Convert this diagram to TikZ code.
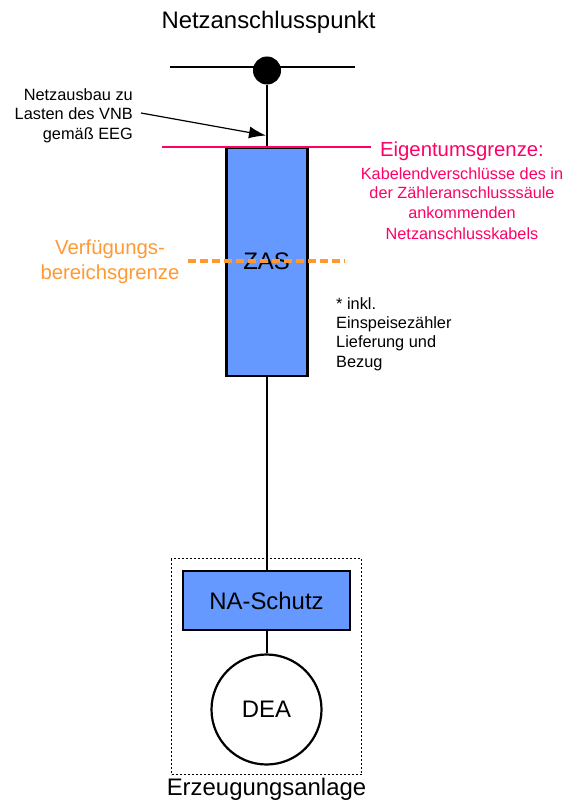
\documentclass[tikz,border=0pt]{standalone}
\usepackage{fontspec}
\setmainfont{Liberation Sans}
\usetikzlibrary{arrows.meta}
\definecolor{boxblue}{HTML}{6699FF}
\definecolor{grenzrot}{HTML}{FF0066}
\definecolor{grenzorange}{HTML}{FF9933}
\tikzset{
  wire/.style={draw=black,line width=2bp},
  blockbox/.style={draw=black,fill=boxblue,line width=2.2bp,inner sep=0pt,text=black},
  lbl/.style={inner sep=0pt,text=black,align=center},
  tiny/.style={font=\fontsize{16.4}{19.5}\selectfont},
  big/.style={font=\fontsize{24}{28}\selectfont},
}
\begin{document}
\begin{tikzpicture}[x=1bp,y=-1bp]
\useasboundingbox (0,0) rectangle (577,803);
% bus
\coordinate (busL) at (170,67);
\coordinate (busR) at (355,67);
\node[circle,fill=black,minimum size=28bp,inner sep=0pt] (nap) at (267,70.5) {};
\draw[wire] (busL) -- (busR);
\node[blockbox,minimum width=81bp,minimum height=228bp] (zas) at (267,262) {};
\node[lbl,big] (zaslbl) at (266.5,261) {ZAS};
\draw[wire] (nap) -- (zas.north);
% limits
\coordinate (egL) at (162,147);
\coordinate (egR) at (371,147);
\draw[draw=grenzrot,line width=2.6bp] (egL) -- (egR);
\coordinate (vgL) at (188,260.5);
\coordinate (vgR) at (345,260.5);
\draw[draw=grenzorange,line width=4bp,dash pattern=on 7.5bp off 4.5bp] (vgL) -- (vgR);
% texts
\node[lbl,big] (title) at (268.5,22) {Netzanschlusspunkt};
\node[lbl,tiny,align=right,anchor=east] (ausbau) at (133,115.5) {Netzausbau zu\\Lasten des VNB\\gemäß EEG};
\coordinate (arrowstart) at (141,113);
\coordinate (arrowend) at (266,135.5);
\draw[line width=1.2bp,-{Latex[length=17bp,width=12bp]}] (arrowstart) -- (arrowend);
\node[lbl,text=grenzrot,font=\fontsize{20.4}{24}\selectfont] (eg) at (462,151.5) {Eigentumsgrenze:};
\node[lbl,text=grenzrot,font=\fontsize{16.3}{19.6}\selectfont] (egt) at (462,203.5) {Kabelendverschlüsse des in\\der Zähleranschlusssäule\\ankommenden\\[2bp]Netzanschlusskabels};
\node[lbl,text=grenzorange,font=\fontsize{20.4}{25}\selectfont] (vg) at (110,261.5) {Verfügungs-\\bereichsgrenze};
\node[lbl,align=left,anchor=west,font=\fontsize{16.4}{19.4}\selectfont] (incl) at (336,334) {* inkl.\\Einspeisezähler\\Lieferung und\\Bezug};
% lower
\node[draw=black,line width=1bp,dash pattern=on 2bp off 2bp,minimum width=190bp,minimum height=216bp,inner sep=0pt] (ea) at (266.5,666.5) {};
\node[blockbox,minimum width=167bp,minimum height=59bp,big] (na) at (266.5,600.5) {NA-Schutz};
\node[circle,draw=black,fill=white,line width=2.2bp,minimum size=110bp,inner sep=0pt,big] (dea) at (266.5,709.5) {DEA};
\draw[wire] (zas.south) -- (zas.south |- na.north);
\draw[wire] (zas.south |- na.south) -- (zas.south |- dea.north);
\node[lbl,big] (ealbl) at (266.5,789.5) {Erzeugungsanlage};
\end{tikzpicture}
\end{document}
